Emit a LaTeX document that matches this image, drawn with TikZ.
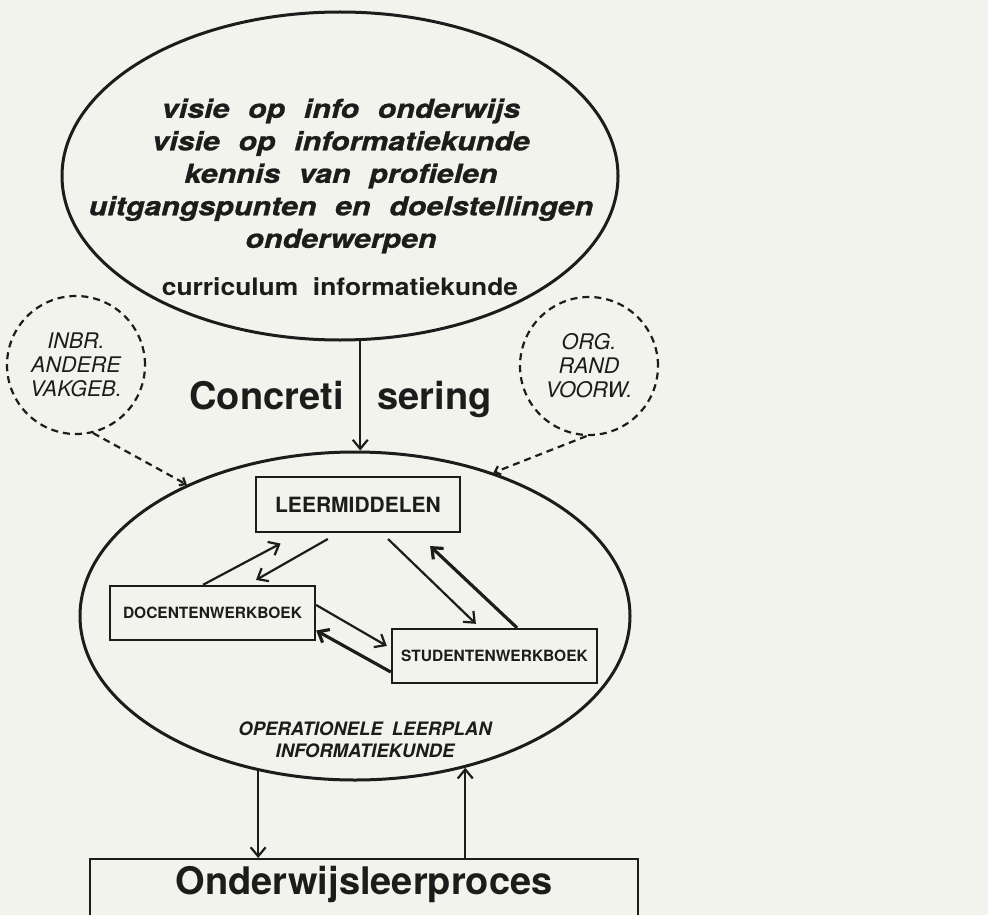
\documentclass[tikz,border=0pt]{standalone}
\usepackage{fontspec}
\setmainfont{TeX Gyre Heros}
\newfontfamily\topfont[FakeStretch=1.17,WordSpace=2.2,FakeBold=1]{TeX Gyre Heros}
\newfontfamily\curfont[FakeStretch=1.1,WordSpace=2.0]{TeX Gyre Heros}
\usetikzlibrary{shapes.geometric,arrows.meta}
\definecolor{paper}{RGB}{243,243,238}
\definecolor{ink}{RGB}{28,28,28}
\begin{document}
\begin{tikzpicture}[x=1pt,y=-1pt,
  oval/.style={ellipse, draw=ink, line width=3pt, inner sep=0pt},
  dashcirc/.style={circle, draw=ink, dash pattern=on 7pt off 5pt, line width=2.2pt,
    minimum size=138pt, inner sep=0pt, align=center, text=ink,
    font=\fontsize{21.5}{24}\selectfont\itshape},
  box/.style={draw=ink, line width=2.4pt, inner sep=0pt, text=ink},
  conn/.style={draw=ink, line width=2.2pt},
  arrs/.style={-{Straight Barb[length=9pt,width=15pt]}},
  smallarrs/.style={-{Straight Barb[length=5pt,width=9pt]}},
  txt/.style={inner sep=0pt, text=ink}
]
\clip (0,0) rectangle (988,915);
\fill[paper] (0,0) rectangle (988,915);

% top ellipse
\node[oval, minimum width=556pt, minimum height=328pt] (top) at (340,176) {};
\node[txt, align=center, font=\fontsize{26}{32.5}\selectfont\topfont\bfseries\itshape] (topt) at (341,176)
  {visie op info onderwijs\\visie op informatiekunde\\kennis van profielen\\uitgangspunten en doelstellingen\\onderwerpen};
\node[txt, anchor=base, font=\fontsize{24}{28}\selectfont\curfont\bfseries] (cur) at (340,295) {curriculum informatiekunde};

% dashed circles
\node[dashcirc] (inbr) at (76,365) {INBR.\\ANDERE\\VAKGEB.};
\node[dashcirc] (org) at (589,366) {ORG.\\RAND\\VOORW.};

% concretisering
\node[txt, anchor=base, font=\fontsize{38}{40}\selectfont\bfseries] (conc) at (340.5,409) {Concreti\hspace{34pt}sering};

% lower ellipse
\node[oval, minimum width=550pt, minimum height=328pt] (low) at (355,616) {};
\node[box, minimum width=204pt, minimum height=55pt, font=\fontsize{21}{24}\selectfont\bfseries] (lm) at (358,504.5) {LEERMIDDELEN};
\node[box, minimum width=205pt, minimum height=54pt, font=\fontsize{15.5}{18}\selectfont\bfseries] (dw) at (212.5,613) {DOCENTENWERKBOEK};
\node[box, minimum width=205pt, minimum height=54pt, font=\fontsize{15.5}{18}\selectfont\bfseries] (sw) at (494.5,656) {STUDENTENWERKBOEK};
\node[txt, align=center, font=\fontsize{18.5}{22}\selectfont\bfseries\itshape] (opl) at (365,739.5) {OPERATIONELE\hspace{0.5em}LEERPLAN\\INFORMATIEKUNDE};

% bottom box
\node[box, anchor=north, minimum width=548pt, text height=29pt, text depth=75pt, inner ysep=6pt,
  font=\fontsize{38}{40}\selectfont\bfseries] (obox) at (364,858) {Onderwijsleerproces};

% connectors
\draw[conn, arrs] (top.277.7) -- (top.277.7 |- low.north);
\draw[conn, dash pattern=on 7pt off 5pt, smallarrs] (inbr.-76) -- (low.142.5);
\draw[conn, dash pattern=on 7pt off 5pt, smallarrs] (org.268) -- (low.46);

\draw[conn, arrs, shorten >=22pt] ([xshift=-9.5pt]dw.north) -- ([xshift=-58pt]lm.south);
\draw[conn, arrs, shorten <=11.7pt, shorten >=9.8pt] ([xshift=-20pt]lm.south) -- ([xshift=35pt]dw.north);
\draw[conn, arrs, shorten <=8.5pt, shorten >=5.7pt] ([xshift=24pt]lm.south) -- ([xshift=-14.5pt]sw.north);
\draw[conn, line width=3.2pt, arrs, shorten >=18.7pt] ([xshift=22.5pt]sw.north) -- ([xshift=58.5pt]lm.south);
\draw[conn, arrs, shorten >=4.6pt] ([yshift=8pt]dw.east) -- ([yshift=7.7pt]sw.west);
\draw[conn, line width=3.2pt, arrs] ([yshift=-16pt]sw.west) -- ([yshift=-17.5pt]dw.east);

\draw[conn, arrs] (low.238.3) -- (low.238.3 |- obox.north);
\draw[conn, arrs] (low.306.8 |- obox.north) -- (low.306.8);
\end{tikzpicture}
\end{document}
